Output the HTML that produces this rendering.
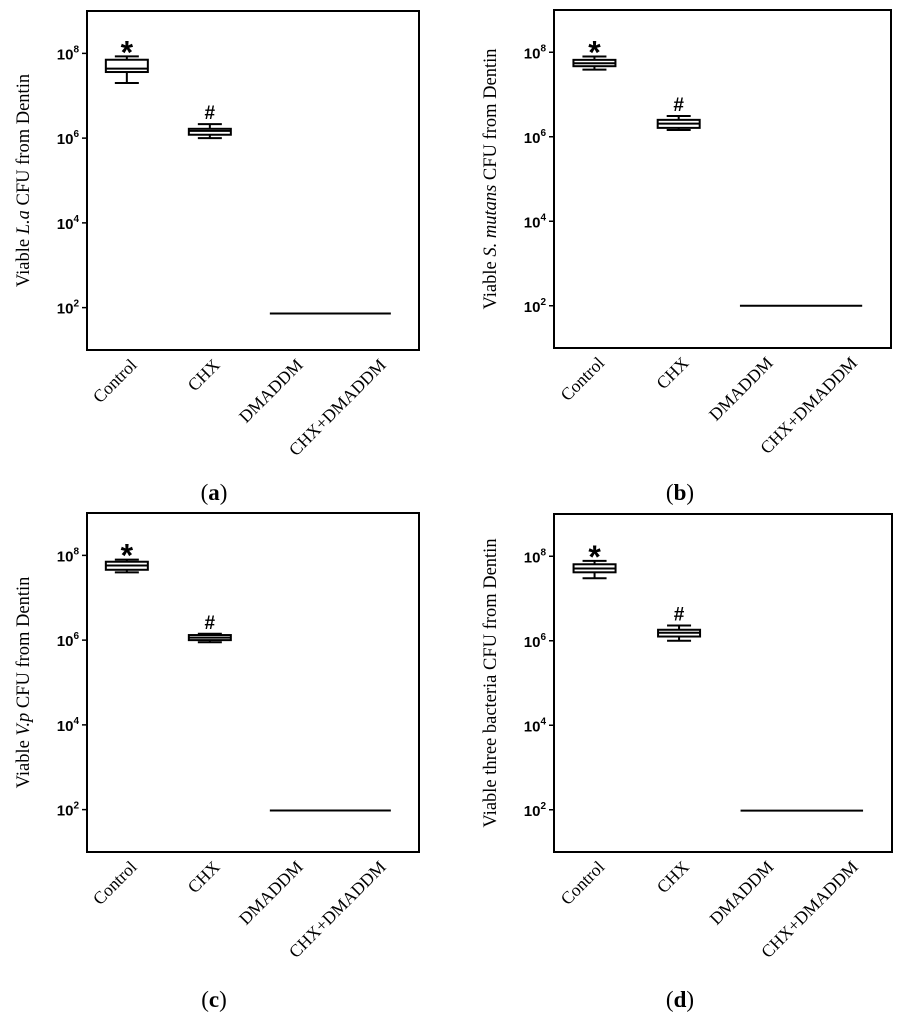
<!DOCTYPE html>
<html><head><meta charset="utf-8">
<style>
body{margin:0;background:#fff;width:901px;height:1024px;overflow:hidden}
svg{display:block}
</style></head>
<body>
<svg id="fig" width="901" height="1024" viewBox="0 0 901 1024"></svg>
<script>
const categories = ["Control","CHX","DMADDM","CHX+DMADDM"];
const tickExps = [2,4,6,8];
// box stats in log10: [lowWhisker, q1, median, q3, highWhisker]
const aControl = [7.30,7.56,7.64,7.85,7.93];
const aCHX = [6.00,6.08,6.17,6.22,6.33];
const aLine = 1.86;
const bControl = [7.59,7.67,7.74,7.82,7.90];
const bCHX = [6.16,6.21,6.31,6.40,6.49];
const bLine = 2.0;
const cControl = [7.60,7.66,7.76,7.85,7.90];
const cCHX = [5.95,6.00,6.06,6.12,6.15];
const cLine = 1.98;
const dControl = [7.48,7.62,7.71,7.81,7.89];
const dCHX = [6.00,6.10,6.19,6.26,6.36];
const dLine = 1.98;

const NS="http://www.w3.org/2000/svg";
const svg=document.getElementById('fig');
function mk(tag,attrs,parent){const e=document.createElementNS(NS,tag);for(const k in attrs)e.setAttribute(k,attrs[k]);(parent||svg).appendChild(e);return e;}
const SANS="Liberation Sans, sans-serif", SERIF="Liberation Serif, serif";

const panels=[
 {id:'a',x0:87,x1:419,y0:11,y1:350,ctrl:aControl,chx:aCHX,line:aLine,title:['Viable ',['L.a',true],' CFU from Dentin'],lab:'a',lx:214,ly:500},
 {id:'b',x0:554,x1:891,y0:10,y1:348,ctrl:bControl,chx:bCHX,line:bLine,title:['Viable ',['S. mutans',true],' CFU from Dentin'],lab:'b',lx:680,ly:500},
 {id:'c',x0:87,x1:419,y0:513,y1:852,ctrl:cControl,chx:cCHX,line:cLine,title:['Viable ',['V.p',true],' CFU from Dentin'],lab:'c',lx:214,ly:1007},
 {id:'d',x0:554,x1:892,y0:514,y1:852,ctrl:dControl,chx:dCHX,line:dLine,title:['Viable three bacteria CFU from Dentin'],lab:'d',lx:680,ly:1007}
];

panels.forEach(p=>{
 const g=mk('g',{});
 
 
 const yScale=v=>p.y1-(v-1)/8*(p.y1-p.y0);
 const step=(p.x1-p.x0)/4;
 const xScale=i=>p.x0+step*(i+0.5)-(p.x1-p.x0)*0.005;
 const frame=mk('rect',{x:p.x0,y:p.y0,width:p.x1-p.x0,height:p.y1-p.y0,fill:'none',stroke:'#000','stroke-width':2},g);
 
 
 tickExps.forEach(e=>{
  const y=yScale(e);
  const t=mk('line',{x1:p.x0-5,x2:p.x0,y1:y,y2:y,stroke:'#000','stroke-width':1.5},g);
  
  
  const tx=mk('text',{x:p.x0-8,y:y+6,'text-anchor':'end','font-family':SANS,'font-weight':'bold','font-size':15},g);
  
  
  tx.appendChild(document.createTextNode('10'));
  const sp=mk('tspan',{dy:-7,'font-size':10},tx);sp.textContent=e;
 });
 const ty=mk('text',{transform:`translate(${p.x0-58},${(p.y0+p.y1)/2}) rotate(-90)`,'text-anchor':'middle','font-family':SERIF,'font-size':18.5},g);
 
 
 p.title.forEach(part=>{
  if(Array.isArray(part)){const s=mk('tspan',{'font-style':'italic'},ty);s.textContent=part[0];}
  else{const s=mk('tspan',{},ty);s.textContent=part;}
 });
 categories.forEach((c,i)=>{
  const x=xScale(i)+11,y=p.y1+16;
  const t=mk('text',{transform:`translate(${x},${y}) rotate(-45)`,'text-anchor':'end','font-family':SERIF,'font-size':17.5},g);
  
  
  t.textContent=c;
 });
 [[p.ctrl,0,'*'],[p.chx,1,'#']].forEach(([s,i,mark])=>{
  const cx=xScale(i),hw=21,cw=12;
  const bg=mk('g',{stroke:'#000','stroke-width':2,fill:'none'},g);
  
  
  mk('line',{x1:cx,x2:cx,y1:yScale(s[0]),y2:yScale(s[1])},bg);
  mk('line',{x1:cx,x2:cx,y1:yScale(s[4]),y2:yScale(s[3])},bg);
  mk('line',{x1:cx-cw,x2:cx+cw,y1:yScale(s[0]),y2:yScale(s[0])},bg);
  mk('line',{x1:cx-cw,x2:cx+cw,y1:yScale(s[4]),y2:yScale(s[4])},bg);
  mk('rect',{x:cx-hw,y:yScale(s[3]),width:2*hw,height:yScale(s[1])-yScale(s[3]),fill:'#fff'},bg);
  mk('line',{x1:cx-hw,x2:cx+hw,y1:yScale(s[2]),y2:yScale(s[2])},bg);
  const m=mk('text',{x:cx,y:yScale(s[4])-(mark=='*'?-7:5),'text-anchor':'middle','font-family':SANS,'font-weight':'bold','font-size':mark=='*'?32:19},g);
  
  
  m.textContent=mark;
 });
 const ln=mk('line',{x1:xScale(2)-23,x2:xScale(3)+15,y1:yScale(p.line),y2:yScale(p.line),stroke:'#000','stroke-width':2},g);
 
 
 const pl=mk('text',{x:p.lx,y:p.ly,'text-anchor':'middle','font-family':SERIF,'font-size':23},g);
 
 
 pl.appendChild(document.createTextNode('('));
 const b=mk('tspan',{'font-weight':'bold'},pl);b.textContent=p.lab;
 pl.appendChild(document.createTextNode(')'));
});
</script>
</body></html>
